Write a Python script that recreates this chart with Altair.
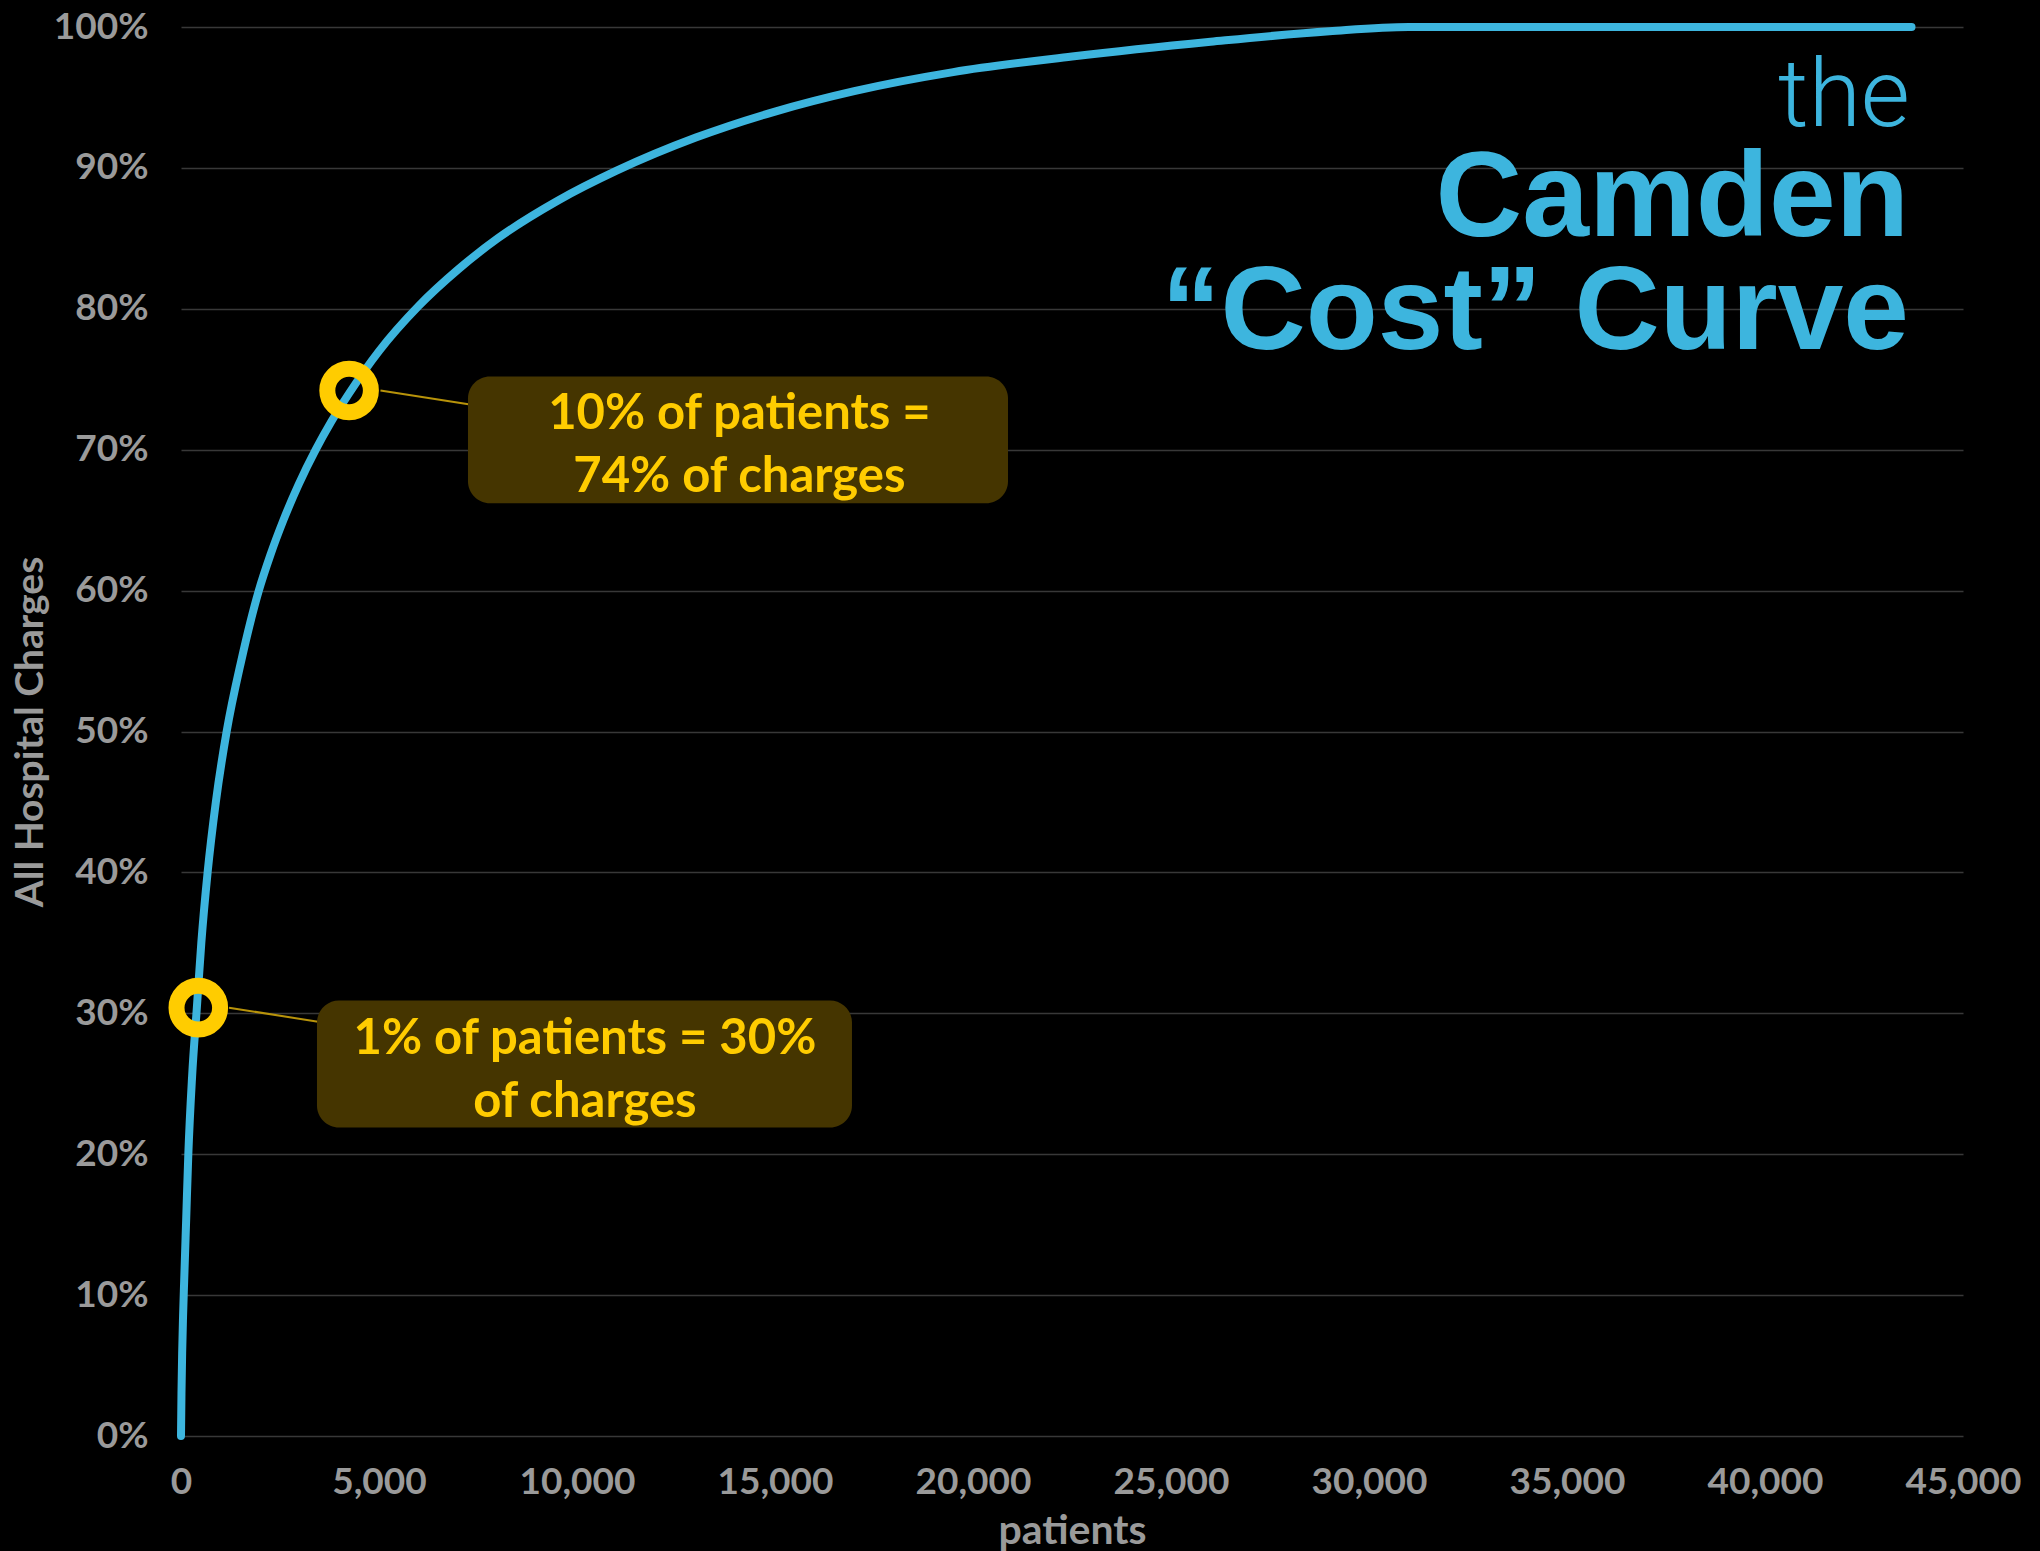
import altair as alt
import pandas as pd

# ---------------- data ----------------
patients = [0, 12, 30, 52, 80, 130, 185, 280, 400, 513, 672, 880, 1153, 1520, 1965,
            2254, 2586, 2966, 3402, 3797, 4245, 5000, 6000, 7000, 8000, 9500,
            11000, 13000, 15000, 17000, 19500, 22500, 26000, 29000, 31000,
            43700]
share = [0, 3, 6, 8.5, 11, 15.3, 20, 25.5, 30.4, 35, 40, 45, 50, 55, 60,
         62.5, 65, 67.5, 70, 72, 74, 77, 80.2, 82.8, 85, 87.65,
         89.8, 92.15, 94, 95.45, 96.8, 97.9, 98.95, 99.7, 100,
         100]

x_ticks = list(range(0, 45001, 5000))
y_ticks = list(range(0, 101, 10))

callout_patients = [437, 4245]
callout_share = [30.4, 74.2]
callout_text = ["1% of patients = 30%\nof charges", "10% of patients =\n74% of charges"]
box_x = [3434, 7247]
box_x2 = [16944, 20884]
box_y = [21.9, 66.2]
box_y2 = [30.9, 75.2]
label_x = [10200, 14100]
label_y = [28.2, 72.5]
leader_x = [1212, 5037]
leader_x2 = [3460, 7298]
leader_y = [30.4, 74.2]
leader_y2 = [29.4, 73.2]

title_lines = ["the", "Camden", "\u201cCost\u201d Curve"]

# ---------------- page background ----------------
try:
    import altair.utils.html as _h
    _orig_tpl = _h.TEMPLATES["standard"]

    class _BlackPage:
        def render(self, *a, **k):
            return _orig_tpl.render(*a, **k).replace(
                "<head>", "<head><style>html,body{background:#000;}</style>", 1)

    _h.TEMPLATES["standard"] = _BlackPage()
except Exception:
    pass

BLUE = "#3db5de"
GOLD = "#FFCC00"
GRAY = "#9a9a9a"

curve_df = pd.DataFrame({"patients": patients, "share": share})
call_df = pd.DataFrame({"patients": callout_patients, "share": callout_share})
box_df = pd.DataFrame({"x": box_x, "x2": box_x2, "y": box_y, "y2": box_y2,
                       "tx": label_x, "ty": label_y, "text": callout_text})
lead_df = pd.DataFrame({"x": leader_x, "x2": leader_x2, "y": leader_y, "y2": leader_y2})

xscale = alt.Scale(domain=[0, 45000], nice=False, zero=True)
yscale = alt.Scale(domain=[0, 100], nice=False)

x_axis = alt.Axis(values=x_ticks, format=",d", title="patients", grid=False,
                  domain=False, ticks=False, tickSize=0, labelPadding=28,
                  labelFont="Lato", labelFontWeight="bold", labelFontSize=37,
                  labelColor=GRAY, labelFlush=False, labelOverlap=False,
                  titleFont="Lato", titleFontWeight="bold", titleFontSize=41,
                  titleColor=GRAY, titlePadding=11)
y_axis = alt.Axis(values=y_ticks, labelExpr="datum.value + '%'",
                  title="All Hospital Charges", grid=True, gridColor="#383838",
                  gridWidth=1.5, domain=False, ticks=False, tickSize=0,
                  labelPadding=33, labelFont="Lato", labelFontWeight="bold",
                  labelFontSize=37, labelColor=GRAY, labelOverlap=False,
                  titleFont="Lato", titleFontWeight="bold", titleFontSize=39,
                  titleColor=GRAY, titlePadding=3)

curve = alt.Chart(curve_df).mark_line(
    color=BLUE, strokeWidth=8, strokeCap="round", interpolate="monotone"
).encode(
    x=alt.X("patients:Q", scale=xscale, axis=x_axis),
    y=alt.Y("share:Q", scale=yscale, axis=y_axis),
)

leaders = alt.Chart(lead_df).mark_rule(color="#b8930a", strokeWidth=2).encode(
    x=alt.X("x:Q", scale=xscale), x2="x2:Q",
    y=alt.Y("y:Q", scale=yscale), y2="y2:Q",
)

boxes = alt.Chart(box_df).mark_rect(cornerRadius=22, fill="#453500").encode(
    x=alt.X("x:Q", scale=xscale), x2="x2:Q",
    y=alt.Y("y:Q", scale=yscale), y2="y2:Q",
)

box_text = alt.Chart(box_df).mark_text(
    font="Lato", fontWeight="bold", fontSize=49, color=GOLD,
    lineBreak="\n", lineHeight=63, align="center", baseline="middle"
).encode(
    x=alt.X("tx:Q", scale=xscale), y=alt.Y("ty:Q", scale=yscale), text="text:N"
)

rings = alt.Chart(call_df).mark_point(
    shape="circle", filled=False, size=1900, strokeWidth=16, color=GOLD, opacity=1
).encode(
    x=alt.X("patients:Q", scale=xscale), y=alt.Y("share:Q", scale=yscale)
)

t1 = alt.Chart(pd.DataFrame({"t": [title_lines[0]]})).mark_text(
    font="Roboto", fontWeight=300, fontSize=95, color=BLUE,
    align="right", baseline="alphabetic"
).encode(x=alt.value(1729), y=alt.value(99), text="t:N")

t2 = alt.Chart(pd.DataFrame({"t": [title_lines[1]]})).mark_text(
    font="Liberation Sans", fontWeight="bold", fontSize=120, color=BLUE,
    align="right", baseline="alphabetic"
).encode(x=alt.value(1728), y=alt.value(209), text="t:N")

t3 = alt.Chart(pd.DataFrame({"t": [title_lines[2]]})).mark_text(
    font="Liberation Sans", fontWeight="bold", fontSize=118, color=BLUE,
    align="right", baseline="alphabetic"
).encode(x=alt.value(1728), y=alt.value(322), text="t:N")

chart = alt.layer(curve, leaders, boxes, box_text, rings, t1, t2, t3).properties(
    width=1782, height=1409,
    background="#000000",
    padding={"left": 173, "top": 19, "right": 69, "bottom": 115},
    autosize=alt.AutoSizeParams(type="none"),
).configure_view(stroke=None)

chart.save("out.html", embed_options={"renderer": "svg", "actions": False})
